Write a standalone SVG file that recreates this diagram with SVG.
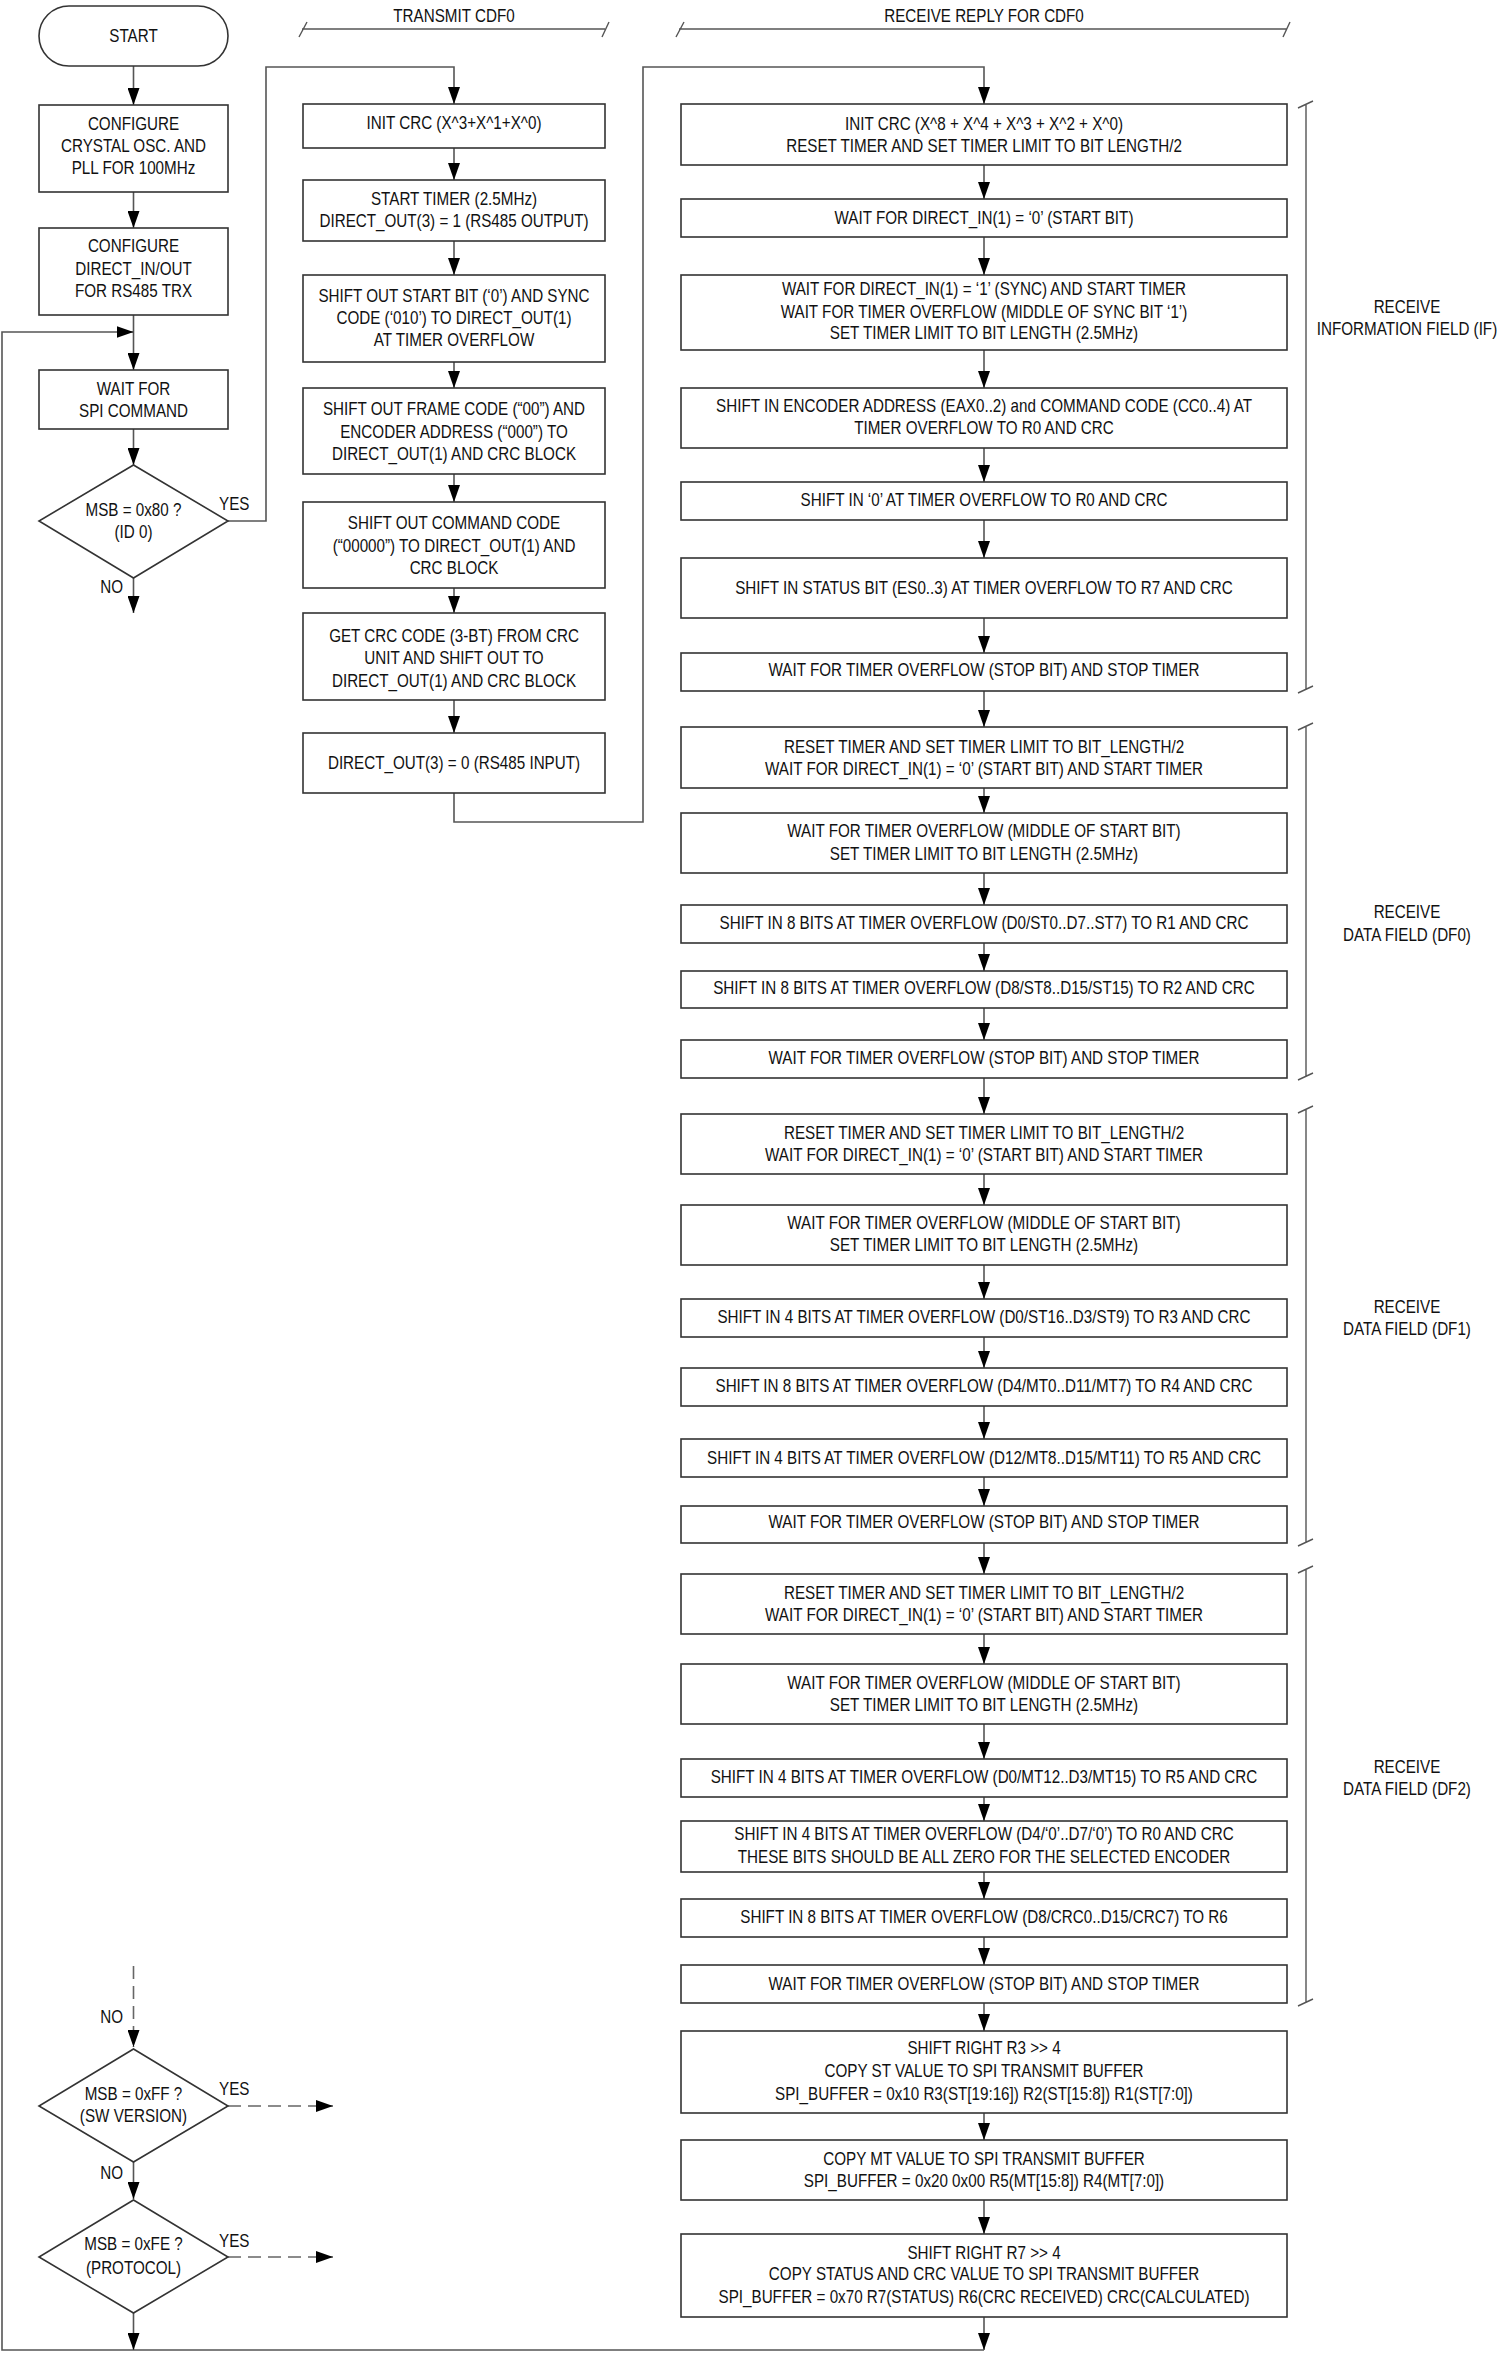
<svg xmlns="http://www.w3.org/2000/svg" width="1509" height="2353" viewBox="0 0 1509 2353">
<style>
.bx{fill:#fff;stroke:#333;stroke-width:1.6}
.cn{fill:none;stroke:#555;stroke-width:1.6}
.dc{fill:none;stroke:#666;stroke-width:1.6;stroke-dasharray:13 7}
.br{fill:none;stroke:#555;stroke-width:1.4}
text{font-family:"Liberation Sans",Arial,sans-serif;font-size:18px;fill:#111;text-anchor:middle}
.s{text-anchor:start}
.e{text-anchor:end}
</style>
<defs>
<marker id="ah" markerUnits="userSpaceOnUse" markerWidth="18" markerHeight="12" refX="17" refY="6" orient="auto"><path d="M0,0 L17,6 L0,12 z" fill="#000"/></marker>
</defs>
<rect width="1509" height="2353" fill="#fff"/>

<g id="connectors">
<path class="cn" d="M133.5,66 V105" marker-end="url(#ah)"/>
<path class="cn" d="M133.5,192 V228" marker-end="url(#ah)"/>
<path class="cn" d="M133.5,315 V370" marker-end="url(#ah)"/>
<path class="cn" d="M133.5,429 V465" marker-end="url(#ah)"/>
<path class="cn" d="M133.5,578 V613" marker-end="url(#ah)"/>
<path class="cn" d="M228,521 H266 V67 H454 V104" marker-end="url(#ah)"/>
<path class="cn" d="M454,148 V180" marker-end="url(#ah)"/>
<path class="cn" d="M454,241 V275" marker-end="url(#ah)"/>
<path class="cn" d="M454,362 V388" marker-end="url(#ah)"/>
<path class="cn" d="M454,474 V502" marker-end="url(#ah)"/>
<path class="cn" d="M454,588 V613" marker-end="url(#ah)"/>
<path class="cn" d="M454,700 V733" marker-end="url(#ah)"/>
<path class="cn" d="M454,793 V822 H643 V67 H984 V104" marker-end="url(#ah)"/>
<path class="cn" d="M984,165 V199" marker-end="url(#ah)"/>
<path class="cn" d="M984,237 V275" marker-end="url(#ah)"/>
<path class="cn" d="M984,350 V388" marker-end="url(#ah)"/>
<path class="cn" d="M984,448 V482" marker-end="url(#ah)"/>
<path class="cn" d="M984,520 V558" marker-end="url(#ah)"/>
<path class="cn" d="M984,618 V653" marker-end="url(#ah)"/>
<path class="cn" d="M984,691 V727" marker-end="url(#ah)"/>
<path class="cn" d="M984,788 V813" marker-end="url(#ah)"/>
<path class="cn" d="M984,873 V905" marker-end="url(#ah)"/>
<path class="cn" d="M984,943 V971" marker-end="url(#ah)"/>
<path class="cn" d="M984,1008 V1040" marker-end="url(#ah)"/>
<path class="cn" d="M984,1078 V1114" marker-end="url(#ah)"/>
<path class="cn" d="M984,1174 V1205" marker-end="url(#ah)"/>
<path class="cn" d="M984,1265 V1299" marker-end="url(#ah)"/>
<path class="cn" d="M984,1337 V1368" marker-end="url(#ah)"/>
<path class="cn" d="M984,1406 V1439" marker-end="url(#ah)"/>
<path class="cn" d="M984,1477 V1506" marker-end="url(#ah)"/>
<path class="cn" d="M984,1543 V1574" marker-end="url(#ah)"/>
<path class="cn" d="M984,1634 V1664" marker-end="url(#ah)"/>
<path class="cn" d="M984,1724 V1759" marker-end="url(#ah)"/>
<path class="cn" d="M984,1797 V1821" marker-end="url(#ah)"/>
<path class="cn" d="M984,1872 V1899" marker-end="url(#ah)"/>
<path class="cn" d="M984,1937 V1965" marker-end="url(#ah)"/>
<path class="cn" d="M984,2003 V2031" marker-end="url(#ah)"/>
<path class="cn" d="M984,2113 V2140" marker-end="url(#ah)"/>
<path class="cn" d="M984,2200 V2234" marker-end="url(#ah)"/>
<path class="cn" d="M984,2317 V2350" marker-end="url(#ah)"/>
<path class="cn" d="M984,2350 H2 V332 H133.5" marker-end="url(#ah)"/>
<path class="dc" d="M133.5,1966 V2047" marker-end="url(#ah)"/>
<path class="cn" d="M133.5,2162 V2199" marker-end="url(#ah)"/>
<path class="cn" d="M133.5,2313 V2350" marker-end="url(#ah)"/>
<path class="dc" d="M228,2106 H333" marker-end="url(#ah)"/>
<path class="dc" d="M228,2257 H333" marker-end="url(#ah)"/>
</g>

<g id="labels">
<g transform="translate(219 0) scale(.845 1)"><text class="s" x="0" y="510">YES</text><text class="s" x="0" y="2095">YES</text><text class="s" x="0" y="2247">YES</text></g>
<g transform="translate(123 0) scale(.845 1)"><text class="e" x="0" y="593">NO</text><text class="e" x="0" y="2023">NO</text><text class="e" x="0" y="2179">NO</text></g>
</g>

<g id="headers">
<path class="br" d="M302,29 H605 M299,37 L307,22 M602,37 L609,22"/>
<path class="br" d="M679,29 H1287 M676,37 L684,22 M1283,37 L1290,22"/>
<g transform="translate(454 0) scale(.845 1)"><text x="0" y="22">TRANSMIT CDF0</text></g>
<g transform="translate(984 0) scale(.845 1)"><text x="0" y="22">RECEIVE REPLY FOR CDF0</text></g>
</g>

<g id="brackets">
<path class="br" d="M1306,105 V690 M1298,108 L1313,101 M1298,693 L1313,686"/>
<path class="br" d="M1306,727 V1077 M1298,730 L1313,723 M1298,1080 L1313,1073"/>
<path class="br" d="M1306,1110 V1543 M1298,1113 L1313,1106 M1298,1546 L1313,1539"/>
<path class="br" d="M1306,1570 V2003 M1298,1573 L1313,1566 M1298,2006 L1313,1999"/>
<g transform="translate(1407 0) scale(.845 1)">
<text x="0" y="313">RECEIVE</text><text x="0" y="335">INFORMATION FIELD (IF)</text>
<text x="0" y="918">RECEIVE</text><text x="0" y="941">DATA FIELD (DF0)</text>
<text x="0" y="1313">RECEIVE</text><text x="0" y="1335">DATA FIELD (DF1)</text>
<text x="0" y="1773">RECEIVE</text><text x="0" y="1795">DATA FIELD (DF2)</text>
</g>
</g>

<g id="start"><rect class="bx" x="39" y="6" width="189" height="60" rx="30"/><g transform="translate(133.5 0) scale(.845 1)"><text x="0" y="42">START</text></g></g>
<g id="cfg_osc"><rect class="bx" x="39" y="105" width="189" height="87"/><g transform="translate(133.5 0) scale(.845 1)"><text x="0" y="130">CONFIGURE</text><text x="0" y="152">CRYSTAL OSC. AND</text><text x="0" y="174">PLL FOR 100MHz</text></g></g>
<g id="cfg_io"><rect class="bx" x="39" y="228" width="189" height="87"/><g transform="translate(133.5 0) scale(.845 1)"><text x="0" y="252">CONFIGURE</text><text x="0" y="275">DIRECT_IN/OUT</text><text x="0" y="297">FOR RS485 TRX</text></g></g>
<g id="wait_spi"><rect class="bx" x="39" y="370" width="189" height="59"/><g transform="translate(133.5 0) scale(.845 1)"><text x="0" y="395">WAIT FOR</text><text x="0" y="417">SPI COMMAND</text></g></g>
<g id="dec_80"><polygon class="bx" points="133.5,465 228,521 133.5,578 39,521"/><g transform="translate(133.5 0) scale(.845 1)"><text x="0" y="516">MSB = 0x80 ?</text><text x="0" y="538">(ID 0)</text></g></g>
<g id="dec_ff"><polygon class="bx" points="133.5,2049 228,2106 133.5,2162 39,2106"/><g transform="translate(133.5 0) scale(.845 1)"><text x="0" y="2100">MSB = 0xFF ?</text><text x="0" y="2122">(SW VERSION)</text></g></g>
<g id="dec_fe"><polygon class="bx" points="133.5,2200 228,2257 133.5,2313 39,2257"/><g transform="translate(133.5 0) scale(.845 1)"><text x="0" y="2250">MSB = 0xFE ?</text><text x="0" y="2274">(PROTOCOL)</text></g></g>

<g id="t1"><rect class="bx" x="303" y="104" width="302" height="44"/><g transform="translate(454 0) scale(.845 1)"><text x="0" y="129">INIT CRC (X^3+X^1+X^0)</text></g></g>
<g id="t2"><rect class="bx" x="303" y="180" width="302" height="61"/><g transform="translate(454 0) scale(.845 1)"><text x="0" y="205">START TIMER (2.5MHz)</text><text x="0" y="227">DIRECT_OUT(3) = 1 (RS485 OUTPUT)</text></g></g>
<g id="t3"><rect class="bx" x="303" y="275" width="302" height="87"/><g transform="translate(454 0) scale(.845 1)"><text x="0" y="302">SHIFT OUT START BIT (‘0’) AND SYNC</text><text x="0" y="324">CODE (‘010’) TO DIRECT_OUT(1)</text><text x="0" y="346">AT TIMER OVERFLOW</text></g></g>
<g id="t4"><rect class="bx" x="303" y="388" width="302" height="86"/><g transform="translate(454 0) scale(.845 1)"><text x="0" y="415">SHIFT OUT FRAME CODE (“00”) AND</text><text x="0" y="438">ENCODER ADDRESS (“000”) TO</text><text x="0" y="460">DIRECT_OUT(1) AND CRC BLOCK</text></g></g>
<g id="t5"><rect class="bx" x="303" y="502" width="302" height="86"/><g transform="translate(454 0) scale(.845 1)"><text x="0" y="529">SHIFT OUT COMMAND CODE</text><text x="0" y="552">(“00000”) TO DIRECT_OUT(1) AND</text><text x="0" y="574">CRC BLOCK</text></g></g>
<g id="t6"><rect class="bx" x="303" y="613" width="302" height="87"/><g transform="translate(454 0) scale(.845 1)"><text x="0" y="642">GET CRC CODE (3-BT) FROM CRC</text><text x="0" y="664">UNIT AND SHIFT OUT TO</text><text x="0" y="687">DIRECT_OUT(1) AND CRC BLOCK</text></g></g>
<g id="t7"><rect class="bx" x="303" y="733" width="302" height="60"/><g transform="translate(454 0) scale(.845 1)"><text x="0" y="769">DIRECT_OUT(3) = 0 (RS485 INPUT)</text></g></g>

<g id="r1"><rect class="bx" x="681" y="104" width="606" height="61"/><g transform="translate(984 0) scale(.845 1)"><text x="0" y="130">INIT CRC (X^8 + X^4 + X^3 + X^2 + X^0)</text><text x="0" y="152">RESET TIMER AND SET TIMER LIMIT TO BIT LENGTH/2</text></g></g>
<g id="r2"><rect class="bx" x="681" y="199" width="606" height="38"/><g transform="translate(984 0) scale(.845 1)"><text x="0" y="224">WAIT FOR DIRECT_IN(1) = ‘0’ (START BIT)</text></g></g>
<g id="r3"><rect class="bx" x="681" y="275" width="606" height="75"/><g transform="translate(984 0) scale(.845 1)"><text x="0" y="295">WAIT FOR DIRECT_IN(1) = ‘1’ (SYNC) AND START TIMER</text><text x="0" y="318">WAIT FOR TIMER OVERFLOW (MIDDLE OF SYNC BIT ‘1’)</text><text x="0" y="339">SET TIMER LIMIT TO BIT LENGTH (2.5MHz)</text></g></g>
<g id="r4"><rect class="bx" x="681" y="388" width="606" height="60"/><g transform="translate(984 0) scale(.845 1)"><text x="0" y="412">SHIFT IN ENCODER ADDRESS (EAX0..2) and COMMAND CODE (CC0..4) AT</text><text x="0" y="434">TIMER OVERFLOW TO R0 AND CRC</text></g></g>
<g id="r5"><rect class="bx" x="681" y="482" width="606" height="38"/><g transform="translate(984 0) scale(.845 1)"><text x="0" y="506">SHIFT IN ‘0’ AT TIMER OVERFLOW TO R0 AND CRC</text></g></g>
<g id="r6"><rect class="bx" x="681" y="558" width="606" height="60"/><g transform="translate(984 0) scale(.845 1)"><text x="0" y="594">SHIFT IN STATUS BIT (ES0..3) AT TIMER OVERFLOW TO R7 AND CRC</text></g></g>
<g id="r7"><rect class="bx" x="681" y="653" width="606" height="38"/><g transform="translate(984 0) scale(.845 1)"><text x="0" y="676">WAIT FOR TIMER OVERFLOW (STOP BIT) AND STOP TIMER</text></g></g>

<g id="r8"><rect class="bx" x="681" y="727" width="606" height="61"/><g transform="translate(984 0) scale(.845 1)"><text x="0" y="753">RESET TIMER AND SET TIMER LIMIT TO BIT_LENGTH/2</text><text x="0" y="775">WAIT FOR DIRECT_IN(1) = ‘0’ (START BIT) AND START TIMER</text></g></g>
<g id="r9"><rect class="bx" x="681" y="813" width="606" height="60"/><g transform="translate(984 0) scale(.845 1)"><text x="0" y="837">WAIT FOR TIMER OVERFLOW (MIDDLE OF START BIT)</text><text x="0" y="860">SET TIMER LIMIT TO BIT LENGTH (2.5MHz)</text></g></g>
<g id="r10"><rect class="bx" x="681" y="905" width="606" height="38"/><g transform="translate(984 0) scale(.845 1)"><text x="0" y="929">SHIFT IN 8 BITS AT TIMER OVERFLOW (D0/ST0..D7..ST7) TO R1 AND CRC</text></g></g>
<g id="r11"><rect class="bx" x="681" y="971" width="606" height="37"/><g transform="translate(984 0) scale(.845 1)"><text x="0" y="994">SHIFT IN 8 BITS AT TIMER OVERFLOW (D8/ST8..D15/ST15) TO R2 AND CRC</text></g></g>
<g id="r12"><rect class="bx" x="681" y="1040" width="606" height="38"/><g transform="translate(984 0) scale(.845 1)"><text x="0" y="1064">WAIT FOR TIMER OVERFLOW (STOP BIT) AND STOP TIMER</text></g></g>

<g id="r13"><rect class="bx" x="681" y="1114" width="606" height="60"/><g transform="translate(984 0) scale(.845 1)"><text x="0" y="1139">RESET TIMER AND SET TIMER LIMIT TO BIT_LENGTH/2</text><text x="0" y="1161">WAIT FOR DIRECT_IN(1) = ‘0’ (START BIT) AND START TIMER</text></g></g>
<g id="r14"><rect class="bx" x="681" y="1205" width="606" height="60"/><g transform="translate(984 0) scale(.845 1)"><text x="0" y="1229">WAIT FOR TIMER OVERFLOW (MIDDLE OF START BIT)</text><text x="0" y="1251">SET TIMER LIMIT TO BIT LENGTH (2.5MHz)</text></g></g>
<g id="r15"><rect class="bx" x="681" y="1299" width="606" height="38"/><g transform="translate(984 0) scale(.845 1)"><text x="0" y="1323">SHIFT IN 4 BITS AT TIMER OVERFLOW (D0/ST16..D3/ST9) TO R3 AND CRC</text></g></g>
<g id="r16"><rect class="bx" x="681" y="1368" width="606" height="38"/><g transform="translate(984 0) scale(.845 1)"><text x="0" y="1392">SHIFT IN 8 BITS AT TIMER OVERFLOW (D4/MT0..D11/MT7) TO R4 AND CRC</text></g></g>
<g id="r17"><rect class="bx" x="681" y="1439" width="606" height="38"/><g transform="translate(984 0) scale(.845 1)"><text x="0" y="1464">SHIFT IN 4 BITS AT TIMER OVERFLOW (D12/MT8..D15/MT11) TO R5 AND CRC</text></g></g>
<g id="r18"><rect class="bx" x="681" y="1506" width="606" height="37"/><g transform="translate(984 0) scale(.845 1)"><text x="0" y="1528">WAIT FOR TIMER OVERFLOW (STOP BIT) AND STOP TIMER</text></g></g>

<g id="r19"><rect class="bx" x="681" y="1574" width="606" height="60"/><g transform="translate(984 0) scale(.845 1)"><text x="0" y="1599">RESET TIMER AND SET TIMER LIMIT TO BIT_LENGTH/2</text><text x="0" y="1621">WAIT FOR DIRECT_IN(1) = ‘0’ (START BIT) AND START TIMER</text></g></g>
<g id="r20"><rect class="bx" x="681" y="1664" width="606" height="60"/><g transform="translate(984 0) scale(.845 1)"><text x="0" y="1689">WAIT FOR TIMER OVERFLOW (MIDDLE OF START BIT)</text><text x="0" y="1711">SET TIMER LIMIT TO BIT LENGTH (2.5MHz)</text></g></g>
<g id="r21"><rect class="bx" x="681" y="1759" width="606" height="38"/><g transform="translate(984 0) scale(.845 1)"><text x="0" y="1783">SHIFT IN 4 BITS AT TIMER OVERFLOW (D0/MT12..D3/MT15) TO R5 AND CRC</text></g></g>
<g id="r22"><rect class="bx" x="681" y="1821" width="606" height="51"/><g transform="translate(984 0) scale(.845 1)"><text x="0" y="1840">SHIFT IN 4 BITS AT TIMER OVERFLOW (D4/‘0’..D7/‘0’) TO R0 AND CRC</text><text x="0" y="1863">THESE BITS SHOULD BE ALL ZERO FOR THE SELECTED ENCODER</text></g></g>
<g id="r23"><rect class="bx" x="681" y="1899" width="606" height="38"/><g transform="translate(984 0) scale(.845 1)"><text x="0" y="1923">SHIFT IN 8 BITS AT TIMER OVERFLOW (D8/CRC0..D15/CRC7) TO R6</text></g></g>
<g id="r24"><rect class="bx" x="681" y="1965" width="606" height="38"/><g transform="translate(984 0) scale(.845 1)"><text x="0" y="1990">WAIT FOR TIMER OVERFLOW (STOP BIT) AND STOP TIMER</text></g></g>

<g id="r25"><rect class="bx" x="681" y="2031" width="606" height="82"/><g transform="translate(984 0) scale(.845 1)"><text x="0" y="2054">SHIFT RIGHT R3 &gt;&gt; 4</text><text x="0" y="2077">COPY ST VALUE TO SPI TRANSMIT BUFFER</text><text x="0" y="2100">SPI_BUFFER = 0x10 R3(ST[19:16]) R2(ST[15:8]) R1(ST[7:0])</text></g></g>
<g id="r26"><rect class="bx" x="681" y="2140" width="606" height="60"/><g transform="translate(984 0) scale(.845 1)"><text x="0" y="2165">COPY MT VALUE TO SPI TRANSMIT BUFFER</text><text x="0" y="2187">SPI_BUFFER = 0x20 0x00 R5(MT[15:8]) R4(MT[7:0])</text></g></g>
<g id="r27"><rect class="bx" x="681" y="2234" width="606" height="83"/><g transform="translate(984 0) scale(.845 1)"><text x="0" y="2259">SHIFT RIGHT R7 &gt;&gt; 4</text><text x="0" y="2280">COPY STATUS AND CRC VALUE TO SPI TRANSMIT BUFFER</text><text x="0" y="2303">SPI_BUFFER = 0x70 R7(STATUS) R6(CRC RECEIVED) CRC(CALCULATED)</text></g></g>
</svg>
